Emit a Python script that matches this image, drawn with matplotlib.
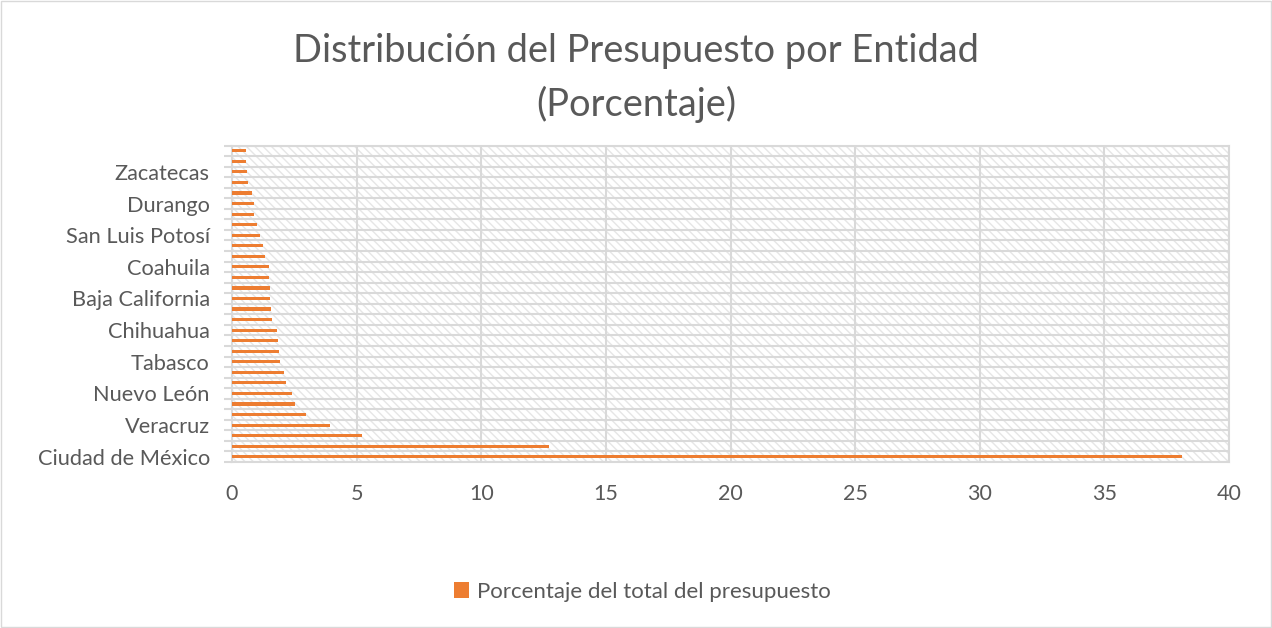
import numpy as np
import matplotlib
matplotlib.use("Agg")
import matplotlib.pyplot as plt
from matplotlib.patches import Rectangle

# states ordered by share of budget (bottom to top of the chart)
entidades = ["Ciudad de México", "Estado de México", "Jalisco", "Veracruz", "Puebla",
             "Guanajuato", "Nuevo León", "Michoacán", "Oaxaca", "Tabasco",
             "Chiapas", "Guerrero", "Chihuahua", "Sonora", "Tamaulipas",
             "Baja California", "Sinaloa", "Hidalgo", "Coahuila", "Yucatán",
             "Morelos", "San Luis Potosí", "Querétaro", "Quintana Roo", "Durango",
             "Campeche", "Aguascalientes", "Zacatecas", "Nayarit", "Tlaxcala"]
porcentaje = [38.13, 12.72, 5.2, 3.94, 2.95, 2.51, 2.39, 2.18, 2.08, 1.91,
              1.88, 1.84, 1.80, 1.59, 1.56, 1.51, 1.51, 1.48, 1.48, 1.32,
              1.25, 1.13, 1.01, 0.90, 0.89, 0.81, 0.65, 0.59, 0.58, 0.58]
serie = "Porcentaje del total del presupuesto"
titulo = "Distribución del Presupuesto por Entidad\n(Porcentaje)"

naranja = "#ED7D31"
gris_txt = "#595959"
gris_lin = "#D9D9D9"

plt.rcParams['font.family'] = ['Lato', 'DejaVu Sans']

fig = plt.figure(figsize=(12.72, 6.28), dpi=100)
ax = fig.add_axes([0.1824, 0.2643, 0.9662 - 0.1824, 0.7683 - 0.2643])

n = len(entidades)
y = np.arange(n)

# hatched background of the plot area
ax.add_patch(Rectangle((0, 0), 1, 1, transform=ax.transAxes, facecolor="white",
                       edgecolor="#E6E6E6", hatch="\\\\\\\\", lw=0, zorder=0))

ax.barh(y, porcentaje, height=0.3, color=naranja, zorder=3, label=serie)

ax.set_xlim(0, 40)
ax.set_ylim(-0.5, n - 0.5)
ax.set_xticks(np.arange(0, 41, 5))
ax.set_yticks(y[::3])
ax.set_yticklabels([entidades[i] for i in y[::3]])
ax.set_yticks(np.arange(-0.5, n, 1), minor=True)

ax.grid(axis="x", which="major", color=gris_lin, lw=1.5, zorder=1)
ax.grid(axis="y", which="minor", color=gris_lin, lw=1.5, zorder=1)
ax.set_axisbelow(True)

ax.tick_params(axis="y", which="major", length=0, pad=16, labelsize=15.7, labelcolor=gris_txt)
ax.tick_params(axis="y", which="minor", length=6, color=gris_lin, width=1.5)
ax.tick_params(axis="x", length=0, pad=16, labelsize=15.5, labelcolor=gris_txt)
for s in ax.spines.values():
    s.set_color(gris_lin)
    s.set_linewidth(1.5)

fig.suptitle(titulo, y=0.947, fontsize=27.4, color=gris_txt, linespacing=1.55)

fig.legend(loc="center", bbox_to_anchor=(0.505, 0.058), frameon=False, fontsize=16,
           labelcolor=gris_txt, handlelength=0.7, handleheight=0.7, handletextpad=0.35)

fig.add_artist(Rectangle((0.001, 0.001), 0.998, 0.997, transform=fig.transFigure,
                         fill=False, edgecolor=gris_lin, lw=1))

fig.savefig("out.png", dpi=100)
